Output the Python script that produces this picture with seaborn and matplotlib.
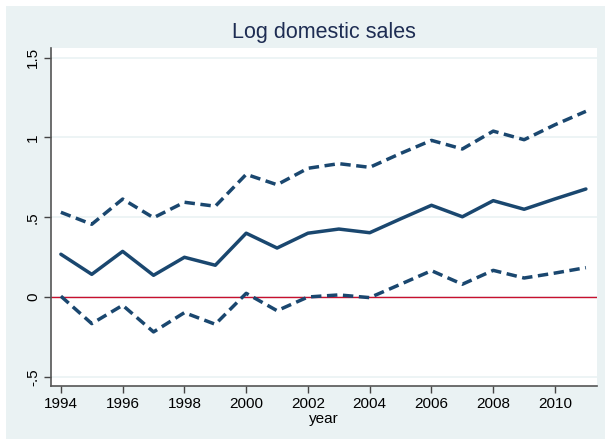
import seaborn as sns
import matplotlib.pyplot as plt
import pandas as pd
from matplotlib.patches import Rectangle

years = list(range(1994, 2012))
estimate = [0.268, 0.142, 0.286, 0.136, 0.249, 0.199, 0.400, 0.307, 0.400, 0.426,
            0.403, 0.490, 0.575, 0.503, 0.604, 0.550, 0.615, 0.677]
upper = [0.531, 0.456, 0.614, 0.497, 0.594, 0.569, 0.769, 0.704, 0.807, 0.836,
         0.813, 0.900, 0.982, 0.928, 1.040, 0.986, 1.080, 1.164]
lower = [0.005, -0.167, -0.052, -0.219, -0.098, -0.171, 0.023, -0.086, 0.000, 0.013,
         -0.004, 0.080, 0.165, 0.080, 0.167, 0.119, 0.150, 0.184]
ytick_vals = [-0.5, 0, 0.5, 1, 1.5]
ytick_labels = ['-.5', '0', '.5', '1', '1.5']
xtick_vals = list(range(1994, 2011, 2))

BG = '#EAF2F3'
NAVY = '#1A476F'


def generate_plot(df):
    '''Stata-like coefficient plot with confidence bands'''
    sns.set_theme(style='white')
    plt.rcParams['font.family'] = ['Liberation Sans', 'DejaVu Sans']

    fig = plt.figure(figsize=(6.05, 4.43), dpi=100, facecolor='white')
    # light blue graph region, thin white margin on top/left/bottom
    fig.add_artist(Rectangle((6 / 605, 4 / 443), 599 / 605, 433 / 443,
                             transform=fig.transFigure, facecolor=BG,
                             edgecolor='none', zorder=-10))
    ax = fig.add_axes([0.0843, 0.1287, 0.9025, 0.7629])
    ax.set_zorder(1)
    ax.set_facecolor('white')

    for y in ytick_vals:
        ax.axhline(y, color=BG, lw=1.2, zorder=0)
    ax.axhline(0, color='#C8102E', lw=1.0, zorder=1)

    sns.lineplot(data=df, x='year', y='upper', ax=ax, color=NAVY, lw=2.5,
                 dashes=(3, 1.6))
    sns.lineplot(data=df, x='year', y='estimate', ax=ax, color=NAVY, lw=2.5)
    sns.lineplot(data=df, x='year', y='lower', ax=ax, color=NAVY, lw=2.5,
                 dashes=(3, 1.6))

    ax.set_xlim(1993.68, 2011.36)
    ax.set_ylim(-0.558, 1.561)
    ax.set_xticks(xtick_vals)
    ax.set_yticks(ytick_vals)
    ax.set_yticklabels(ytick_labels, rotation=90, va='center')
    ax.tick_params(axis='both', length=5, width=1, color='#444444',
                   labelsize=11, labelcolor='black', pad=3, direction='out')
    ax.tick_params(axis='x', bottom=True)
    ax.tick_params(axis='y', left=True)

    for side in ['top', 'right']:
        ax.spines[side].set_visible(False)
    for side in ['left', 'bottom']:
        ax.spines[side].set_color('#555555')
        ax.spines[side].set_linewidth(1.2)

    ax.set_xlabel('year', fontsize=11, color='black', labelpad=1)
    ax.set_ylabel('')
    fig.text(0.535, 0.927, 'Log domestic sales', ha='center', va='center',
             fontsize=15.5, color='#1E2D53', zorder=2)

    fig.savefig('out.png', dpi=100, facecolor='white')


def main():
    df = pd.DataFrame({'year': years, 'estimate': estimate,
                       'upper': upper, 'lower': lower})
    generate_plot(df)


if __name__ == '__main__':
    main()
